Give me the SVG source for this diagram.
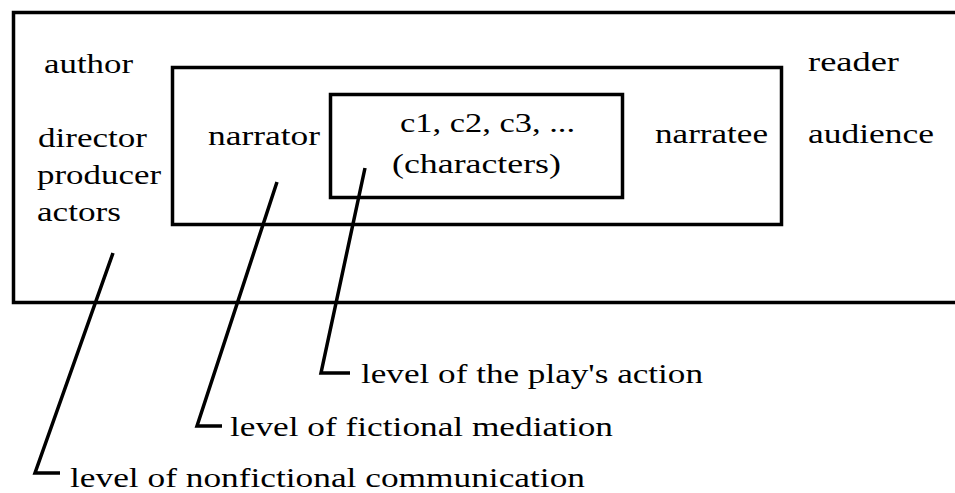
<svg xmlns="http://www.w3.org/2000/svg" width="955" height="493" viewBox="0 0 955 493">
  <style>
    .frame { fill: none; stroke: #000; stroke-width: 3.5; }
    .lead { fill: none; stroke: #000; stroke-width: 3.5; stroke-linejoin: miter; }
  </style>
  <rect width="955" height="493" fill="#fff"/>

  <g font-family="'Liberation Serif', 'DejaVu Serif', serif" font-size="27" fill="#000">
    <!-- outer level: nonfictional communication (open on the right) -->
    <g id="level-nonfictional">
      <path class="frame" d="M960,12.5 H13.5 V302.5 H960"/>
      <text x="44" y="73" textLength="89" lengthAdjust="spacingAndGlyphs">author</text>
      <text x="38" y="147" textLength="109" lengthAdjust="spacingAndGlyphs">director</text>
      <text x="37" y="184" textLength="124" lengthAdjust="spacingAndGlyphs">producer</text>
      <text x="37" y="221" textLength="84" lengthAdjust="spacingAndGlyphs">actors</text>
      <text x="808" y="71" textLength="91" lengthAdjust="spacingAndGlyphs">reader</text>
      <text x="808" y="143" textLength="126" lengthAdjust="spacingAndGlyphs">audience</text>
    </g>

    <!-- middle level: fictional mediation -->
    <g id="level-fictional">
      <rect class="frame" x="172.5" y="67.5" width="609" height="157"/>
      <text x="208" y="145" textLength="112" lengthAdjust="spacingAndGlyphs">narrator</text>
      <text x="655" y="143" textLength="113" lengthAdjust="spacingAndGlyphs">narratee</text>
    </g>

    <!-- inner level: the play's action -->
    <g id="level-action">
      <rect class="frame" x="330.5" y="94.5" width="292" height="103"/>
      <text x="400" y="132" textLength="175" lengthAdjust="spacingAndGlyphs">c1, c2, c3, ...</text>
      <text x="392" y="173" textLength="169" lengthAdjust="spacingAndGlyphs">(characters)</text>
    </g>

    <!-- leader lines to the level captions -->
    <g id="connectors">
      <path class="lead" d="M113,253 L35,473 H60"/>
      <path class="lead" d="M277,182 L197,426 H222"/>
      <path class="lead" d="M365,168 L321,373 H350"/>
    </g>

    <g id="captions">
      <text x="70" y="487" textLength="515" lengthAdjust="spacingAndGlyphs">level of nonfictional communication</text>
      <text x="230" y="436" textLength="383" lengthAdjust="spacingAndGlyphs">level of fictional mediation</text>
      <text x="361" y="383" textLength="342" lengthAdjust="spacingAndGlyphs">level of the play's action</text>
    </g>
  </g>
</svg>
